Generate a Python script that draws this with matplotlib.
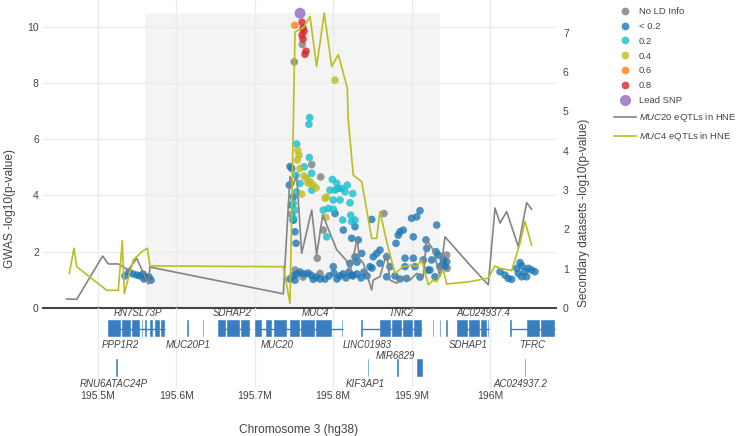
import matplotlib
matplotlib.use("Agg")
import matplotlib.pyplot as plt
from matplotlib.lines import Line2D
from matplotlib.patches import Rectangle

plt.rcParams['font.family'] = ['Liberation Sans', 'DejaVu Sans']
plt.rcParams['mathtext.fontset'] = 'custom'
plt.rcParams['mathtext.it'] = 'Liberation Sans:italic'
plt.rcParams['mathtext.rm'] = 'Liberation Sans'

# ---------------- data ----------------
x_ticks = [195.5, 195.6, 195.7, 195.8, 195.9, 196.0]
x_tick_labels = ["195.5M", "195.6M", "195.7M", "195.8M", "195.9M", "196M"]
left_ticks = [0, 2, 4, 6, 8, 10]
right_ticks = [0, 1, 2, 3, 4, 5, 6, 7]

# highlighted (credible) region
region_start = 195.560
region_end = 195.936
region_top = 10.48

lead_pos = [195.7577]
lead_val = [10.48]

ld08_pos = [195.7602, 195.7615, 195.7628, 195.7602, 195.7615, 195.7653, 195.7640]
ld08_val = [10.16, 9.95, 9.84, 9.70, 9.56, 9.13, 9.02]

ld06_pos = [195.7509]
ld06_val = [10.05]

ld04_pos = [195.8023, 195.7547, 195.7564, 195.7542, 195.7577, 195.7662, 195.7704,
            195.7746, 195.7781, 195.7917, 195.7895, 195.7908, 195.7598, 195.7628, 195.7679]
ld04_val = [8.10, 5.61, 5.43, 5.26, 4.96, 4.61, 4.49, 4.37, 4.27, 3.95, 3.90, 3.22,
            4.05, 4.69, 4.44]

ld02_pos = [195.7700, 195.7691, 195.7534, 195.7695, 195.7526, 195.7726, 195.7726,
            195.7534, 195.7577, 195.7989, 195.7959, 195.8023, 195.8065, 195.8107,
            195.8151, 195.8249, 195.8087, 195.8001, 195.7874, 195.7938, 195.8001,
            195.8121, 195.8223, 195.8278, 195.8214, 195.7491, 195.7491, 195.7917,
            195.8235, 195.7513, 195.7631, 195.8044, 195.8180]
ld02_val = [6.77, 6.53, 5.83, 5.35, 4.72, 4.79, 4.19, 4.13, 4.43, 4.57, 4.19, 4.19,
            4.25, 4.25, 4.13, 4.07, 3.84, 3.84, 3.48, 3.54, 3.51, 3.13, 3.30, 3.13,
            3.74, 3.72, 3.19, 2.53, 3.07, 3.48, 5.02, 4.44, 4.37]

ld00_pos = [
    # left cluster
    195.5344, 195.5395, 195.5446, 195.5497, 195.5536, 195.5574, 195.5612, 195.5651,
    195.5676, 195.5587,
    # main peak area
    195.7471, 195.7440, 195.7491, 195.7491, 195.7513, 195.7526, 195.8023, 195.8129,
    195.8278, 195.8235, 195.8320, 195.8491, 195.8852, 195.8894, 195.8830, 195.9000,
    195.9065, 195.9107, 195.9022, 195.8801, 195.9184, 195.9311, 195.9193, 195.8597,
    195.8555, 195.8511, 195.8682, 195.8597, 195.8724, 195.8916, 195.9022, 195.9149,
    195.9256, 195.8916, 195.9043, 195.8364, 195.8278, 195.8214, 195.8001, 195.8469,
    195.8235, 195.8682, 195.8936, 195.7746, 195.7513, 195.7449, 195.7466, 195.7491,
    195.9320, 195.9341, 195.9362, 195.9234, 195.9298,
    195.9404, 195.9426, 195.9404, 195.9448,
    # bottom band
    195.7449, 195.7487, 195.7538, 195.7577, 195.7628, 195.7679, 195.7717, 195.7781,
    195.7832, 195.7895, 195.7946, 195.8010, 195.8048, 195.8087, 195.8125, 195.8163,
    195.8202, 195.8253, 195.8304, 195.8355, 195.8393, 195.8431, 195.8495, 195.8304,
    195.8788, 195.8852, 195.9107, 195.9209,
    # right cluster
    196.0128, 196.0191, 196.0233, 196.0276, 196.0340, 196.0383, 196.0361, 196.0404,
    196.0467, 196.0446, 196.0489, 196.0531, 196.0574, 196.0408]
ld00_val = [
    1.14, 1.28, 1.21, 1.17, 1.14, 1.21, 1.10, 1.10, 0.99, 1.03,
    4.96, 4.37, 3.95, 3.13, 2.71, 2.30, 3.36, 2.77, 2.89, 2.48, 2.42, 3.15, 2.71, 2.77,
    2.59, 3.19, 3.24, 3.46, 2.53, 2.30, 2.42, 2.00, 2.12, 2.06, 1.94, 1.82, 1.82, 1.59,
    1.47, 1.77, 1.77, 1.71, 1.71, 1.47, 1.47, 1.94, 1.82, 1.59, 1.47, 1.47, 1.17, 1.11,
    1.05, 1.02, 0.99, 5.03, 3.66, 3.13,
    2.95, 1.88, 1.47, 1.35, 1.11,
    1.59, 1.47, 1.71, 1.64,
    1.03, 1.14, 1.21, 1.28, 1.21, 1.24, 1.17, 1.10, 1.03, 1.03, 1.14, 1.24, 1.03, 1.14,
    1.21, 1.07, 1.28, 1.14, 1.21, 1.07, 1.28, 1.14, 1.42, 1.63,
    1.14, 1.03, 1.10, 1.35,
    1.29, 1.17, 1.05, 1.02, 1.41, 1.61, 1.23, 1.11, 1.11, 1.29, 1.41, 1.35, 1.29, 1.49]

nold_pos = [195.7606, 195.7504, 195.7841, 195.7726, 195.8648, 195.7874, 195.7797,
            195.7471, 195.9448, 195.9455, 195.7513, 195.7832, 195.7615]
nold_val = [9.37, 8.75, 4.66, 5.10, 3.36, 2.77, 1.77, 3.33, 1.88, 1.41, 1.35, 1.23, 1.10]

# secondary datasets (right axis)
muc20_pos = [195.4601, 195.4728, 195.5060, 195.5131, 195.5259, 195.5386, 195.5494,
             195.5642, 195.5663, 195.7364, 195.7449, 195.7491, 195.7534, 195.7598,
             195.7726, 195.7789, 195.7866, 195.8045, 195.8163, 195.8214, 195.8307,
             195.8333, 195.8384, 195.8491, 195.8511, 195.8597, 195.8682, 195.8724,
             195.8810, 195.8874, 195.8980, 195.9065, 195.9149, 195.9191, 195.9277,
             195.9362, 195.9426, 195.9745, 195.9978, 196.0064, 196.0128, 196.0213,
             196.0361, 196.0468, 196.0531]
muc20_val = [0.23, 0.22, 1.32, 1.12, 1.12, 0.97, 1.26, 0.61, 1.04, 0.36, 3.34, 3.13,
             3.38, 1.39, 2.49, 1.35, 2.37, 1.48, 1.22, 0.92, 1.77, 1.26, 1.14, 0.46,
             0.71, 0.80, 1.39, 0.71, 0.63, 0.80, 0.71, 0.88, 0.80, 1.73, 1.48, 0.80,
             1.81, 1.09, 0.59, 2.54, 2.16, 2.45, 1.56, 2.68, 2.51]

muc4_pos = [195.4634, 195.4694, 195.4728, 195.5111, 195.5259, 195.5310, 195.5335,
            195.5450, 195.5557, 195.5629, 195.5663, 195.7364, 195.7449, 195.7513,
            195.7619, 195.7704, 195.7789, 195.7886, 195.7981, 195.8065, 195.8180,
            195.8192, 195.8256, 195.8364, 195.8491, 195.8554, 195.8597, 195.8682,
            195.8788, 195.8894, 195.9000, 195.9065, 195.9128, 195.9213, 195.9277,
            195.9320, 195.9404, 195.9448, 195.9745, 195.9978, 196.0064, 196.0128,
            196.0276, 196.0383, 196.0446, 196.0531]
muc4_val = [0.88, 1.52, 1.05, 0.45, 0.45, 1.71, 0.37, 1.22, 1.43, 1.52, 1.07, 1.05,
            0.12, 7.02, 7.12, 7.41, 6.14, 7.50, 6.14, 6.44, 5.59, 4.78, 3.38, 3.21,
            1.77, 1.77, 2.45, 1.69, 0.88, 1.05, 1.09, 1.05, 1.22, 0.59, 0.71, 0.67,
            0.97, 0.61, 0.67, 0.76, 1.07, 1.01, 0.95, 1.65, 2.20, 1.60]

# gene track
exon_start = [195.5128, 195.5306, 195.5434, 195.5561, 195.5599, 195.5663, 195.5727,
              195.5804, 195.6135, 195.6339, 195.6531, 195.6645, 195.6824, 195.7003,
              195.7143, 195.7245, 195.7449, 195.7589, 195.7781, 195.8112, 195.8355,
              195.8597, 195.8750, 195.8890, 195.9031, 195.9273, 195.9362, 195.9445,
              195.9579, 195.9732, 195.9885, 195.9974, 196.0255, 196.0472, 196.0651,
              195.5230, 195.8444, 195.8820, 195.9069, 196.0446]
exon_end = [195.5293, 195.5421, 195.5536, 195.5580, 195.5625, 195.5702, 195.5791,
            195.5855, 195.6167, 195.6358, 195.6633, 195.6811, 195.6939, 195.7092,
            195.7219, 195.7411, 195.7577, 195.7768, 195.7985, 195.8131, 195.8380,
            195.8737, 195.8878, 195.9018, 195.9133, 195.9292, 195.9381, 195.9464,
            195.9719, 195.9872, 195.9962, 195.9987, 196.0281, 196.0638, 196.0829,
            195.5249, 195.8463, 195.8839, 195.9145, 196.0465]
exon_row = [0] * 35 + [1] * 5

intron_start = [195.5128, 195.6531, 195.7003, 195.8355, 195.9579, 196.0255]
intron_end = [195.5855, 195.6939, 195.8131, 195.9133, 195.9987, 196.0829]

gene_names = ["RN7SL73P", "PPP1R2", "MUC20P1", "SDHAP2", "MUC20", "MUC4", "LINC01983",
              "TNK2", "SDHAP1", "AC024937.4", "TFRC", "RNU6ATAC24P", "KIF3AP1",
              "MIR6829", "AC024937.2"]
gene_label_pos = [195.5510, 195.5281, 195.6148, 195.6709, 195.7283, 195.7774, 195.8431,
                  195.8865, 195.9726, 195.9915, 196.0542, 195.5200, 195.8409, 195.8788,
                  196.0392]
gene_label_slot = ["r0_above", "r0_below", "r0_below", "r0_above", "r0_below", "r0_above",
                   "r0_below", "r0_above", "r0_below", "r0_above", "r0_below",
                   "r1_below", "r1_below", "r1_above", "r1_below"]

# ---------------- figure ----------------
W, H = 736, 436
fig = plt.figure(figsize=(W / 100, H / 100), dpi=100)

XMIN, XMAX = 195.42985, 196.0842
ax = fig.add_axes([43 / W, 1 - 308 / H, 513 / W, 308 / H])
ax.set_xlim(XMIN, XMAX)
ax.set_ylim(0, 10.95)
ax.set_axisbelow(True)
ax.grid(True, color='#ebebeb', lw=1.0)
ax.set_xticks(x_ticks)
ax.set_xticklabels([])
ax.set_yticks(left_ticks)
ax.tick_params(axis='both', length=0, labelsize=7.5, labelcolor='#444444', pad=3)
for s in ['top', 'left', 'right']:
    ax.spines[s].set_visible(False)
ax.spines['bottom'].set_color('#444444')
ax.spines['bottom'].set_linewidth(1.5)

ax.add_patch(Rectangle((region_start, 0), region_end - region_start, region_top,
                       facecolor='#f4f4f4', edgecolor='none', zorder=0))

alpha = 0.8
ms = 30
cats = [
    (nold_pos, nold_val, '#7f7f7f', 'No LD Info'),
    (ld00_pos, ld00_val, '#1f77b4', '< 0.2'),
    (ld02_pos, ld02_val, '#17becf', '0.2'),
    (ld04_pos, ld04_val, '#bcbd22', '0.4'),
    (ld06_pos, ld06_val, '#ff7f0e', '0.6'),
    (ld08_pos, ld08_val, '#d62728', '0.8'),
]
for p, v, c, lab in cats:
    ax.scatter(p, v, s=ms, color=c, alpha=alpha, edgecolors='none', zorder=3)
ax.scatter(lead_pos, lead_val, s=62, color='#9467bd', alpha=alpha, edgecolors='none', zorder=4)

ax2 = ax.twinx()
ax2.set_ylim(0, 7.83)
ax2.set_yticks(right_ticks)
ax2.tick_params(axis='y', length=0, labelsize=7.5, labelcolor='#444444', pad=5)
for s in ['top', 'left', 'right', 'bottom']:
    ax2.spines[s].set_visible(False)
ax2.plot(muc20_pos, muc20_val, color='#848484', lw=1.2)
ax2.plot(muc4_pos, muc4_val, color='#bcbd22', lw=1.2)

# gene track
gax = fig.add_axes([43 / W, 1 - 388 / H, 513 / W, 80 / H])
gax.set_xlim(XMIN, XMAX)
gax.set_ylim(80, 0)
gax.set_xticks(x_ticks)
gax.set_xticklabels(x_tick_labels)
gax.set_yticks([])
gax.grid(True, axis='x', color='#ebebeb', lw=1.0)
gax.set_axisbelow(True)
gax.tick_params(axis='x', length=0, labelsize=7.5, labelcolor='#444444', pad=2)
for s in gax.spines.values():
    s.set_visible(False)
gax.patch.set_alpha(0)

row_top = {0: 12, 1: 51}
row_h = {0: 17, 1: 18}
gene_col = '#3a7ebf'
for a, b in zip(intron_start, intron_end):
    gax.plot([a, b], [20.5, 20.5], color=gene_col, lw=1.0, solid_capstyle='butt')
for a, b, r in zip(exon_start, exon_end, exon_row):
    gax.add_patch(Rectangle((a, row_top[r]), b - a, row_h[r], facecolor=gene_col,
                            edgecolor='white', lw=0.3))
slot_y = {"r0_above": 5.5, "r0_below": 36.5, "r1_above": 48, "r1_below": 76}
for n, p, sl in zip(gene_names, gene_label_pos, gene_label_slot):
    gax.text(p, slot_y[sl], n, ha='center', va='center', style='italic',
             fontsize=7, color='#444444')

fig.text(299 / W, 1 - 430 / H, "Chromosome 3 (hg38)", ha='center', va='center',
         fontsize=8.6, color='#444444')
fig.text(10 / W, 1 - 208 / H, "GWAS -log10(p-value)", ha='center', va='center',
         rotation=90, fontsize=8.6, color='#444444')
fig.text(584 / W, 1 - 213 / H, "Secondary datasets -log10(p-value)", ha='center',
         va='center', rotation=90, fontsize=8.6, color='#444444')

handles = [Line2D([], [], ls='none', marker='o', markersize=5.6, color=c, alpha=alpha,
                  markeredgewidth=0) for _, _, c, _ in cats]
labels = [lab for _, _, _, lab in cats]
handles.append(Line2D([], [], ls='none', marker='o', markersize=8, color='#9467bd',
                      alpha=alpha, markeredgewidth=0))
labels.append('Lead SNP')
handles.append(Line2D([], [], color='#848484', lw=1.2))
labels.append(r'$\it{MUC20}$ eQTLs in HNE')
handles.append(Line2D([], [], color='#bcbd22', lw=1.2))
labels.append(r'$\it{MUC4}$ eQTLs in HNE')
fig.legend(handles, labels, loc='upper left', bbox_to_anchor=(614 / W, 1 - 7 / H),
           frameon=False, fontsize=6.8, labelspacing=0.62, handlelength=2.3,
           handletextpad=0.3, borderpad=0, borderaxespad=0, labelcolor='#444444')

fig.savefig('out.png', dpi=100)
